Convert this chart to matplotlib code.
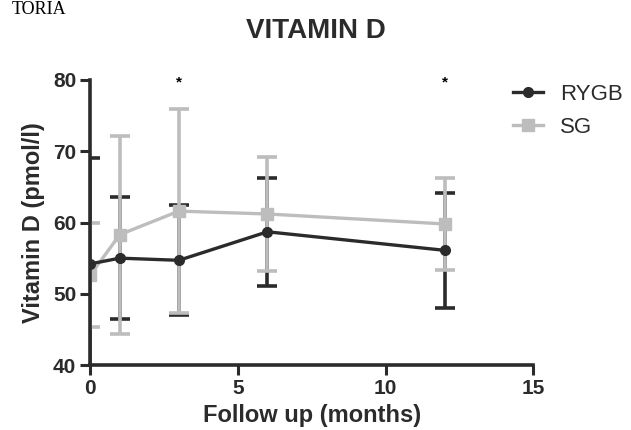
import matplotlib
matplotlib.use("Agg")
import matplotlib.pyplot as plt
from matplotlib.lines import Line2D

meses = [0, 1, 3, 6, 12]
rygb = [54.2, 55.0, 54.7, 58.7, 56.1]
rygb_err = [14.8, 8.6, 7.7, 7.6, 8.1]
sg = [52.6, 58.3, 61.6, 61.2, 59.8]
sg_err = [7.3, 13.9, 14.3, 8.0, 6.4]
asteriscos = [3, 12]

oscuro = "#2b2b2b"
claro = "#bdbdbd"

plt.rcParams['font.family'] = ['Liberation Sans', 'DejaVu Sans']
plt.rcParams['font.weight'] = 'bold'

fig = plt.figure(figsize=(6.31, 4.30), dpi=100)
ax = fig.add_axes([0.143, 0.151, 0.702, 0.663])

# barras de error: las de SG quedan por encima de las de RYGB
ax.errorbar(meses, rygb, yerr=rygb_err, fmt='none', ecolor=oscuro,
            elinewidth=2.6, capsize=7, capthick=2.6, zorder=2)
ax.errorbar(meses, sg, yerr=sg_err, fmt='none', ecolor=claro,
            elinewidth=2.6, capsize=7, capthick=2.6, zorder=3)
ax.plot(meses, sg, color=claro, marker='s', markersize=8, linewidth=2.4, zorder=4)
ax.plot(meses, rygb, color=oscuro, marker='o', markersize=7, linewidth=2.4, zorder=5)

for m in asteriscos:
    ax.text(m, 79.6, '*', ha='center', va='center', fontsize=11, color='black')

ax.set_xlim(0, 15)
ax.set_ylim(40, 80)
ax.set_xticks([0, 5, 10, 15])
ax.set_yticks([40, 50, 60, 70, 80])
ax.spines['top'].set_visible(False)
ax.spines['right'].set_visible(False)
for s in ['left', 'bottom']:
    ax.spines[s].set_linewidth(2.6)
    ax.spines[s].set_color(oscuro)
    ax.spines[s].set_zorder(6)
ax.tick_params(width=2.2, length=7, labelsize=15, colors=oscuro, pad=3)
ax.set_xlabel('Follow up (months)', fontsize=17, fontweight='bold', color=oscuro, labelpad=4)
ax.set_ylabel('Vitamin D (pmol/l)', fontsize=17, fontweight='bold', color=oscuro, labelpad=6)
fig.text(0.5, 1 - 31 / 430, 'VITAMIN D', fontsize=20, fontweight='bold',
         color=oscuro, ha='center', va='center')

manejadores = [
    Line2D([], [], color=oscuro, marker='o', markersize=7, linewidth=2.4),
    Line2D([], [], color=claro, marker='s', markersize=8, linewidth=2.4),
]
leg = fig.legend(manejadores, ['RYGB', 'SG'], loc='upper left',
                 bbox_to_anchor=(513 / 631, 1 - 84 / 430), frameon=False,
                 handlelength=1.35, handletextpad=0.75,
                 labelspacing=0.55, borderpad=0, borderaxespad=0,
                 prop={'size': 16, 'weight': 'normal'})
for t in leg.get_texts():
    t.set_color(oscuro)

fig.text(12 / 631, 1 - 14 / 430, 'TORIA', fontsize=13, family='Liberation Serif',
         fontweight='normal', va='baseline', ha='left')

fig.savefig('out.png', dpi=100)
